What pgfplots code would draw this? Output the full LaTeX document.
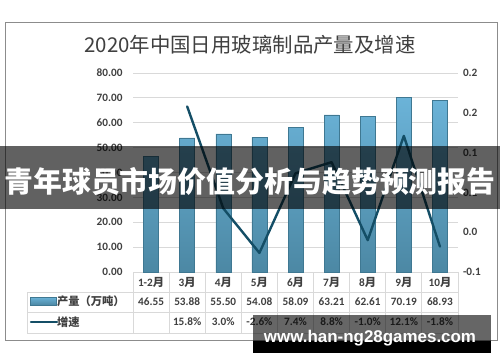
\documentclass[border=0pt]{standalone}
\usepackage{pgfplots}
\pgfplotsset{compat=1.18}
\usepackage{fontspec}
\setmainfont{Carlito}
\newfontfamily\cjk{Noto Sans CJK SC}
\newfontfamily\lib{Liberation Sans}
\definecolor{txt}{HTML}{404040}
\definecolor{gridc}{HTML}{D9D9D9}
\definecolor{lin}{HTML}{144E66}
\definecolor{bartop}{HTML}{6BB3D8}
\definecolor{barbot}{HTML}{4C88A4}
\definecolor{baredge}{HTML}{3F7892}
\newcommand{\yue}{{\cjk 月}}
\begin{document}
\begin{tikzpicture}[x=1bp,y=1bp]
\useasboundingbox (0,0) rectangle (500,362);
\fill[white] (0,0) rectangle (500,362);
\draw[black!45, line width=0.8bp] (5,22) rectangle (497,340);
\node[font=\cjk\fontsize{20.5}{22}\selectfont, text=txt] at (250,317) {2020年中国日用玻璃制品产量及增速};

% table grid
\draw[gridc, line width=0.8bp] (27,70) -- (458,70) (27,50) -- (458,50) (27,29) -- (458,29) (27,29) -- (27,70);
\foreach \k in {0,...,9} \draw[gridc, line width=0.8bp] ({133+36.111*\k},29) -- ({133+36.111*\k},90);

\begin{axis}[at={(133bp,90bp)}, anchor=south west, scale only axis,
  width=325bp, height=199bp, clip=false,
  xmin=-0.5, xmax=8.5, ymin=0, ymax=80,
  ytick={0,10,...,80}, xtick={0,...,8},
  xticklabels={1-2\yue,3\yue,4\yue,5\yue,6\yue,7\yue,8\yue,9\yue,10\yue},
  axis line style={draw=none}, major tick length=0,
  ymajorgrids, grid style={gridc, line width=0.8bp},
  ticklabel style={font=\bfseries\fontsize{11.3}{12}\selectfont, text=txt},
  yticklabel style={xshift=-7bp, /pgf/number format/.cd, fixed, fixed zerofill, precision=2, assume math mode=true},
  xticklabel style={anchor=center, yshift=-10bp},
]
\addplot[ybar, bar width=15bp, draw=baredge, line width=0.5bp, top color=bartop, bottom color=barbot]
  coordinates {(0,46.55) (1,53.88) (2,55.50) (3,54.08) (4,58.09) (5,63.21) (6,62.61) (7,70.19) (8,68.93)};
\end{axis}

\begin{axis}[at={(133bp,90bp)}, anchor=south west, scale only axis,
  width=325bp, height=199bp,
  xmin=-0.5, xmax=8.5, ymin=-0.05, ymax=0.2,
  axis y line*=right, axis x line=none,
  ytick={-0.05,0,0.05,0.1,0.15,0.2},
  yticklabels={-0.1,0.0,0.1,0.1,0.2,0.2},
  axis line style={draw=none}, major tick length=0,
  ticklabel style={font=\bfseries\fontsize{11.3}{12}\selectfont, text=txt},
  yticklabel style={xshift=1.5bp},
]
\addplot[lin, line width=2.4bp, line join=round, line cap=round]
  coordinates {(1,0.158) (2,0.030) (3,-0.026) (4,0.074) (5,0.088) (6,-0.010) (7,0.121) (8,-0.018)};
\end{axis}

% table contents
\foreach \v [count=\i from 0] in {46.55,53.88,55.50,54.08,58.09,63.21,62.61,70.19,68.93}
  \node[font=\bfseries\fontsize{11.3}{12}\selectfont, text=txt] at ({133+36.111*(\i+0.5)},60) {\v};
\foreach \v [count=\i from 1] in {15.8\%,3.0\%,-2.6\%,7.4\%,8.8\%,-1.0\%,12.1\%,-1.8\%}
  \node[font=\bfseries\fontsize{11.3}{12}\selectfont, text=txt] at ({133+36.111*(\i+0.5)},40) {\v};
\shade[top color=bartop, bottom color=barbot, draw=baredge, line width=0.5bp] (30,57) rectangle (56,65);
\draw[lin, line width=2.4bp, line cap=round] (31,40) -- (57,40);
\node[anchor=west, inner sep=0, font=\cjk\bfseries\fontsize{11.3}{12}\selectfont, text=txt] at (57,61) {产量（万吨）};
\node[anchor=west, inner sep=0, font=\cjk\bfseries\fontsize{11.3}{12}\selectfont, text=txt] at (57,40) {增速};

% overlay banners
\fill[black, fill opacity=0.62] (0,153) rectangle (500,216);
\node[text=white, font=\cjk\bfseries\fontsize{29}{30}\selectfont] at (250,180) {青年球员市场价值分析与趋势预测报告};
\fill[black, fill opacity=0.6] (253,21) rectangle (491,47);
\fill[black] (253,9) rectangle (491,21);
\node[text=white, font=\lib\bfseries\fontsize{17}{18}\selectfont, anchor=base] at (370,20) {www.han-ng28games.com};
\end{tikzpicture}
\end{document}
